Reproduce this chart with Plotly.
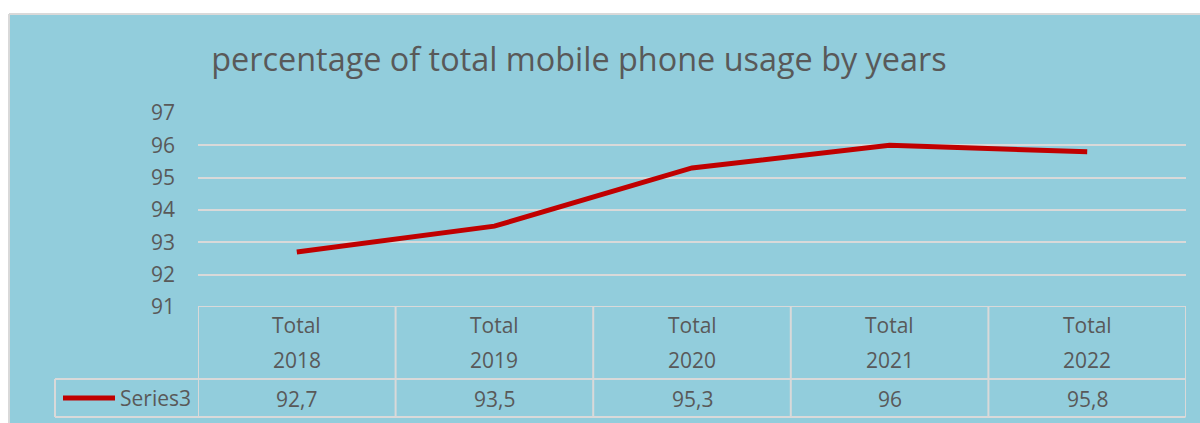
import plotly.graph_objects as go

# --- data ---
years = ["2018", "2019", "2020", "2021", "2022"]
group_label = "Total"
usage = [92.7, 93.5, 95.3, 96.0, 95.8]
series_name = "Series3"
title_text = "percentage of total mobile phone usage by years"

W, H = 1200, 423
BG = "#92CDDC"
GRID = "#D9D9D9"
TEXT = "#595959"
LINE = "#C00000"
FONT = "Open Sans"


def px_x(x):
    return x / W


def px_y(y):
    return 1 - y / H


def fmt(v):
    return f"{v:g}".replace(".", ",")


idx = list(range(len(years)))

fig = go.Figure()
fig.add_trace(go.Scatter(
    x=idx, y=usage, mode="lines", name=series_name,
    line=dict(color=LINE, width=5), showlegend=False, hoverinfo="skip",
))

shapes = []
# chart area background (runs off the right and bottom edges)
shapes.append(dict(type="rect", xref="paper", yref="paper",
                   x0=px_x(9), x1=1, y0=0, y1=px_y(14),
                   fillcolor=BG, line=dict(width=0), layer="below"))
# its top and left border
shapes.append(dict(type="line", xref="paper", yref="paper",
                   x0=px_x(9), x1=1, y0=px_y(14), y1=px_y(14),
                   line=dict(color=GRID, width=2), layer="below"))
shapes.append(dict(type="line", xref="paper", yref="paper",
                   x0=px_x(9), x1=px_x(9), y0=0, y1=px_y(14),
                   line=dict(color=GRID, width=2), layer="below"))

# data table grid
top, mid, bot = 307, 379, 417
left_cell = 55
shapes.append(dict(type="line", xref="x", yref="y",
                   x0=-0.5, x1=len(years) - 0.5, y0=91, y1=91,
                   line=dict(color=GRID, width=2), layer="below"))
for y in (mid, bot):
    shapes.append(dict(type="line", xref="paper", yref="paper",
                       x0=px_x(left_cell), x1=px_x(1185.5), y0=px_y(y), y1=px_y(y),
                       line=dict(color=GRID, width=2), layer="below"))
shapes.append(dict(type="line", xref="paper", yref="paper",
                   x0=px_x(left_cell), x1=px_x(left_cell), y0=px_y(mid), y1=px_y(bot),
                   line=dict(color=GRID, width=2), layer="below"))
for i in range(len(years) + 1):
    shapes.append(dict(type="line", xref="x", yref="paper",
                       x0=i - 0.5, x1=i - 0.5, y0=px_y(top), y1=px_y(bot),
                       line=dict(color=GRID, width=2), layer="below"))
# legend key for the table row
shapes.append(dict(type="line", xref="paper", yref="paper",
                   x0=px_x(63), x1=px_x(115), y0=px_y(398), y1=px_y(398),
                   line=dict(color=LINE, width=5), layer="above"))

annotations = []
for i, (yr, v) in enumerate(zip(years, usage)):
    for txt, y in ((group_label, 325), (yr, 360), (fmt(v), 399)):
        annotations.append(dict(x=i, y=px_y(y), xref="x", yref="paper",
                                text=txt, showarrow=False,
                                xanchor="center", yanchor="middle",
                                font=dict(family=FONT, size=21, color=TEXT)))
annotations.append(dict(x=px_x(118), y=px_y(398), xref="paper", yref="paper",
                        text=series_name, showarrow=False,
                        xanchor="left", yanchor="middle",
                        font=dict(family=FONT, size=21, color=TEXT)))

fig.update_layout(
    width=W, height=H,
    autosize=False,
    margin=dict(l=0, r=0, t=0, b=0, pad=0, autoexpand=False),
    paper_bgcolor="white",
    plot_bgcolor="rgba(0,0,0,0)",
    title=dict(text=title_text, x=px_x(579), xanchor="center",
               y=px_y(60), yanchor="middle", automargin=False,
               font=dict(family=FONT, size=32.4, color=TEXT)),
    xaxis=dict(domain=[px_x(198), px_x(1186)], range=[-0.5, len(years) - 0.5],
               showgrid=False, zeroline=False, showticklabels=False,
               showline=False, automargin=False, fixedrange=True),
    yaxis=dict(domain=[px_y(307), px_y(113)], range=[91, 97], dtick=1,
               showgrid=True, gridcolor=GRID, gridwidth=2, zeroline=False,
               showline=False, ticks="", ticklabelstandoff=22, automargin=False,
               tickfont=dict(family=FONT, size=21, color=TEXT), fixedrange=True),
    shapes=shapes,
    annotations=annotations,
    showlegend=False,
)

fig.write_html("out.html")
